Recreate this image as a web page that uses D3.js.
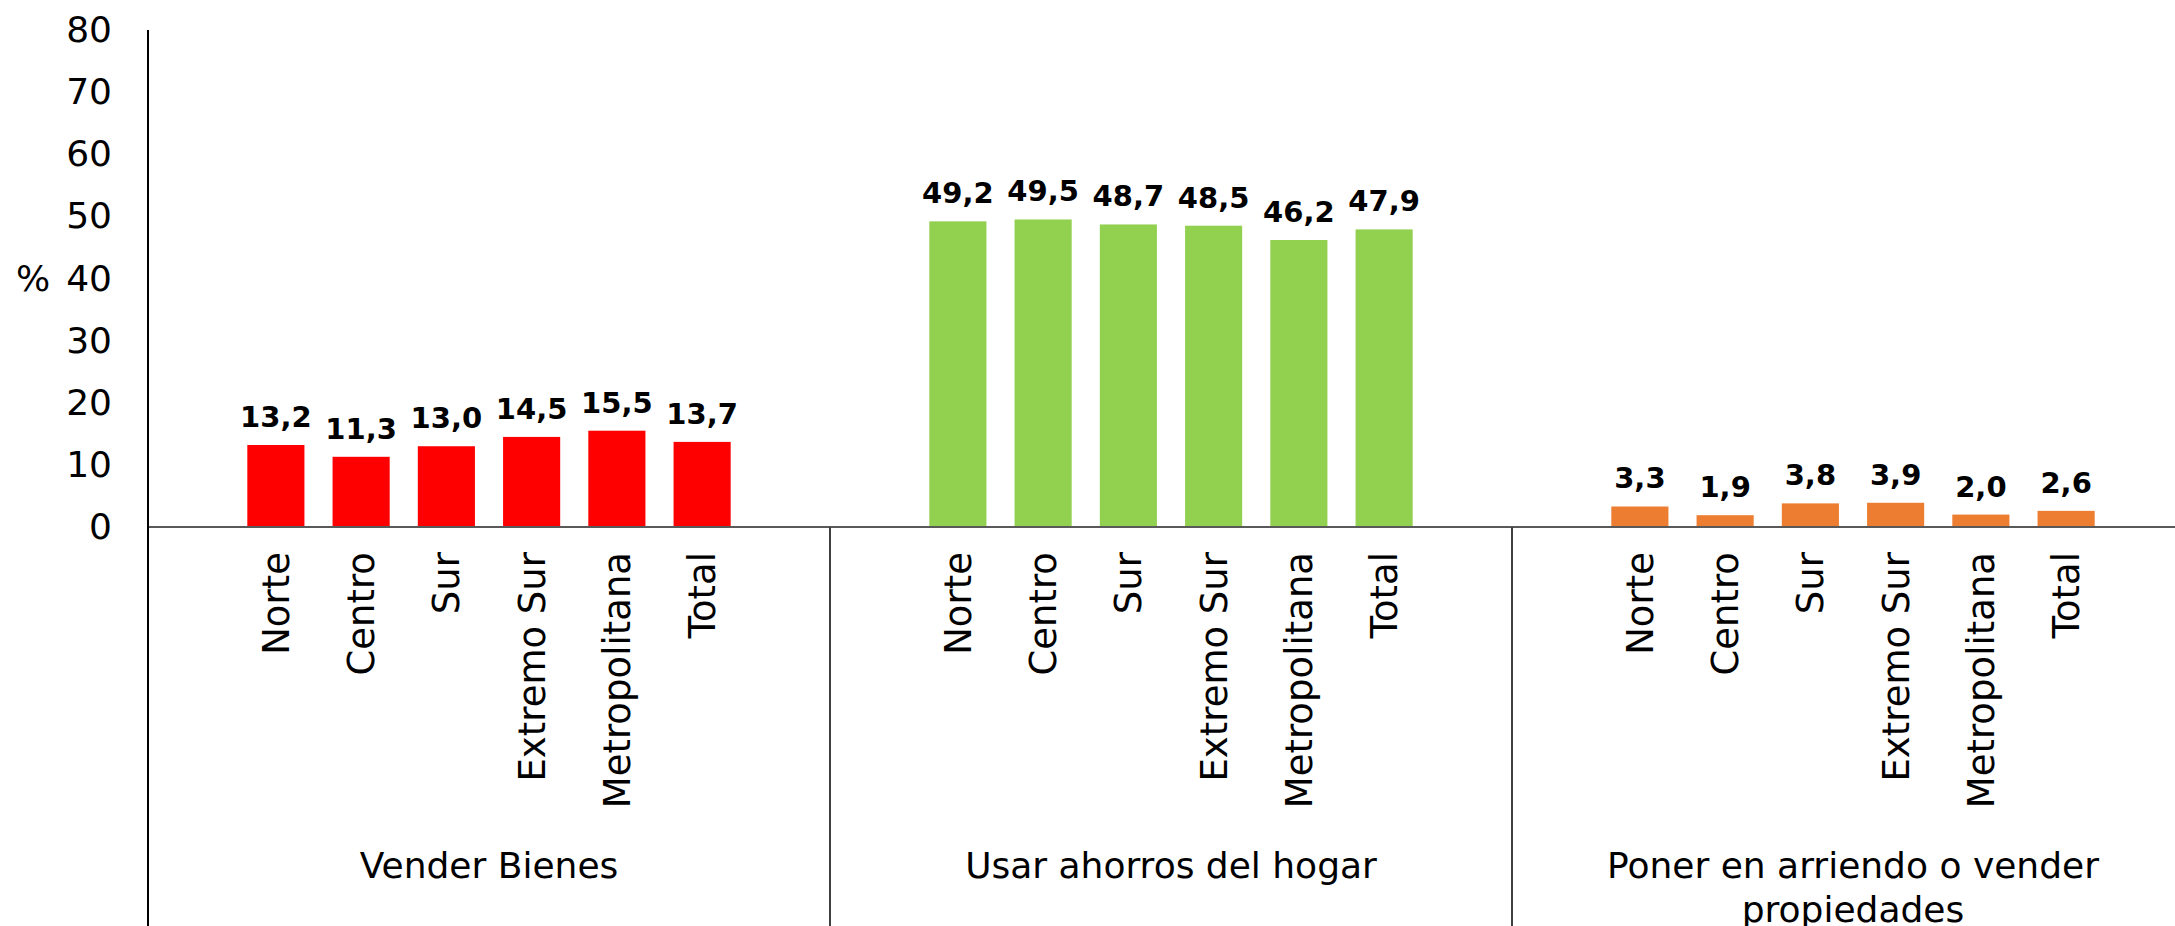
<!DOCTYPE html>
<meta charset="utf-8" />

<!-- Load d3.js -->
<script src="https://d3js.org/d3.v7.min.js"></script>

<div id="my_dataviz"></div>
<script>
  // data
  const groups = [
    "Vender Bienes",
    "Usar ahorros del hogar",
    "Poner en arriendo o vender propiedades",
  ];
  const regions = ["Norte", "Centro", "Sur", "Extremo Sur", "Metropolitana", "Total"];
  const venderBienes = [13.2, 11.3, 13.0, 14.5, 15.5, 13.7];
  const usarAhorros = [49.2, 49.5, 48.7, 48.5, 46.2, 47.9];
  const ponerArriendo = [3.3, 1.9, 3.8, 3.9, 2.0, 2.6];
  const yTicks = [0, 10, 20, 30, 40, 50, 60, 70, 80];
  const groupColors = ["#FF0000", "#92D050", "#ED7D31"];

  const seriesByGroup = [venderBienes, usarAhorros, ponerArriendo];

  const data = [];
  groups.forEach((g, gi) => {
    regions.forEach((r, ri) => {
      data.push({ group: g, region: r, value: seriesByGroup[gi][ri], gi: gi });
    });
  });

  const W = 2175,
    H = 926;
  const margin = { top: 30, left: 148 };
  const groupWidth = 682;
  const baseY = 527;

  const svg = d3
    .select("#my_dataviz")
    .append("svg")
    .attr("width", W)
    .attr("height", H)
    .style("display", "block")
    .style("font-family", "'DejaVu Sans', Verdana, sans-serif");

  // scales
  const y = d3.scaleLinear().domain([0, 80]).range([baseY, margin.top]);

  const xGroup = d3
    .scaleBand()
    .domain(groups)
    .range([margin.left, margin.left + groupWidth * groups.length])
    .padding(0);

  // one empty slot on each side of the six regions
  const xRegion = d3
    .scaleBand()
    .domain(regions)
    .range([0, groupWidth])
    .paddingInner(0.33)
    .paddingOuter(1.165);

  // y axis labels
  const yAxis = svg
    .append("g")
    .attr("transform", `translate(${margin.left - 36}, 0)`)
    .style("font-size", "36px")
    .call(d3.axisLeft(y).tickValues(yTicks).tickSize(0).tickPadding(0));
  yAxis.select(".domain").remove();
  yAxis
    .selectAll("text")
    .attr("fill", "#000")
    .style("font-family", "'DejaVu Sans', Verdana, sans-serif");

  svg
    .append("text")
    .attr("x", 33)
    .attr("y", y(40))
    .attr("dy", "0.35em")
    .attr("text-anchor", "middle")
    .style("font-size", "36px")
    .text("%");

  // bars
  svg
    .selectAll(".bar")
    .data(data)
    .join("rect")
    .attr("class", "bar")
    .attr("x", (d) => xGroup(d.group) + xRegion(d.region))
    .attr("y", (d) => y(d.value))
    .attr("width", xRegion.bandwidth())
    .attr("height", (d) => y(0) - y(d.value))
    .attr("fill", (d) => groupColors[d.gi]);

  // value labels
  svg
    .selectAll(".val")
    .data(data)
    .join("text")
    .attr("class", "val")
    .attr("x", (d) => xGroup(d.group) + xRegion(d.region) + xRegion.bandwidth() / 2)
    .attr("y", (d) => y(d.value) - 18)
    .attr("text-anchor", "middle")
    .style("font-size", "29px")
    .style("font-weight", "bold")
    .text((d) => d.value.toFixed(1).replace(".", ","));

  // axis lines
  svg
    .append("line")
    .attr("x1", margin.left)
    .attr("x2", W)
    .attr("y1", y(0))
    .attr("y2", y(0))
    .attr("stroke", "#595959")
    .attr("stroke-width", 2);

  svg
    .append("line")
    .attr("x1", margin.left)
    .attr("x2", margin.left)
    .attr("y1", y(80))
    .attr("y2", H)
    .attr("stroke", "#000")
    .attr("stroke-width", 2);

  // group dividers
  svg
    .selectAll(".divider")
    .data(groups.slice(1))
    .join("line")
    .attr("class", "divider")
    .attr("x1", (g) => xGroup(g))
    .attr("x2", (g) => xGroup(g))
    .attr("y1", y(0))
    .attr("y2", H)
    .attr("stroke", "#404040")
    .attr("stroke-width", 2);

  // region labels, rotated
  svg
    .selectAll(".cat")
    .data(data)
    .join("text")
    .attr("class", "cat")
    .attr("transform", (d) => {
      const cx = xGroup(d.group) + xRegion(d.region) + xRegion.bandwidth() / 2;
      return `translate(${cx}, ${y(0) + 25}) rotate(-90)`;
    })
    .attr("dy", "0.35em")
    .attr("text-anchor", "end")
    .style("font-size", "37px")
    .text((d) => d.region);

  // group labels with wrapping
  const groupLabels = svg
    .selectAll(".grp")
    .data(groups)
    .join("text")
    .attr("class", "grp")
    .attr("text-anchor", "middle")
    .style("font-size", "36px");

  groupLabels.each(function (g) {
    const text = d3.select(this);
    const cx = xGroup(g) + groupWidth / 2;
    const words = g.split(" ");
    let line = [];
    let lineNo = 0;
    let tspan = text.append("tspan").attr("x", cx).attr("y", 878);
    words.forEach((w) => {
      line.push(w);
      tspan.text(line.join(" "));
      if (tspan.node().getComputedTextLength() > groupWidth - 30 && line.length > 1) {
        line.pop();
        tspan.text(line.join(" "));
        line = [w];
        lineNo++;
        tspan = text
          .append("tspan")
          .attr("x", cx)
          .attr("y", 878 + lineNo * 44)
          .text(w);
      }
    });
  });
</script>
<style>
  body {
    margin: 0;
    background-color: #fff;
  }
</style>
